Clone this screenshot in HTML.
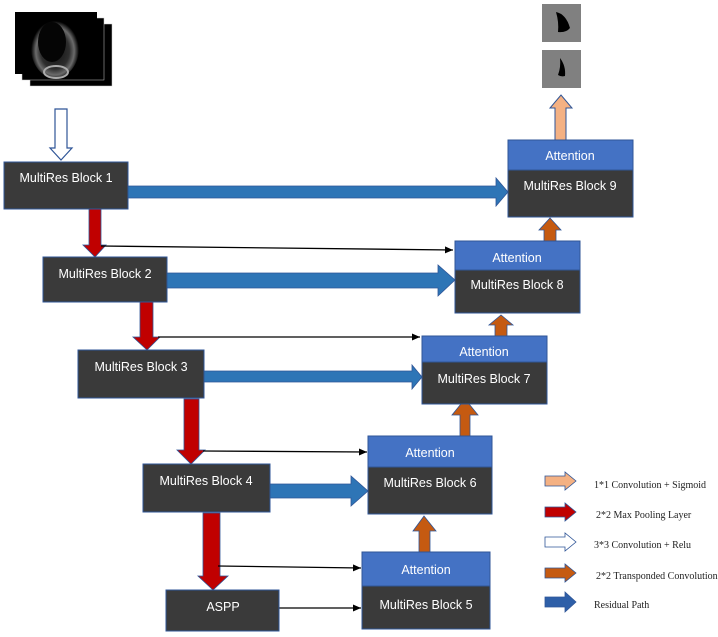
<!DOCTYPE html>
<html><head><meta charset="utf-8"><style>
html,body{margin:0;padding:0;background:#fff;}
svg{display:block;}
.bt{font-family:"Liberation Sans",sans-serif;font-size:12.5px;fill:#fff;}
.lg{font-family:"Liberation Serif",serif;font-size:10px;fill:#222;}
</style></head><body>
<svg width="718" height="637" viewBox="0 0 718 637" xmlns="http://www.w3.org/2000/svg">
<defs>
<marker id="ah" markerWidth="8" markerHeight="8" refX="8" refY="4" orient="auto" markerUnits="userSpaceOnUse"><path d="M0,0.5 L8,4 L0,7.5z" fill="#000"/></marker>
<radialGradient id="us" cx="0.5" cy="0.55" r="0.5"><stop offset="0" stop-color="#111"/><stop offset="0.6" stop-color="#333"/><stop offset="0.8" stop-color="#777"/><stop offset="1" stop-color="#000"/></radialGradient>
</defs>
<!-- input image stack -->
<rect x="30" y="24" width="82" height="62" fill="#000" stroke="#ccc" stroke-width="0.5"/>
<rect x="22" y="18" width="82" height="62" fill="#000" stroke="#ccc" stroke-width="0.5"/>
<rect x="15" y="12" width="82" height="62" fill="#000"/>
<ellipse cx="55" cy="48" rx="24" ry="30" fill="url(#us)" opacity="0.9"/>
<ellipse cx="52" cy="42" rx="14" ry="20" fill="#050505"/>
<ellipse cx="56" cy="72" rx="12" ry="6" fill="none" stroke="#aaa" stroke-width="2"/>
<!-- output images -->
<rect x="542" y="4" width="39" height="38" fill="#808080"/>
<path d="M556,12 Q566,14 570,28 Q566,33 558,32 Q559,22 556,12z" fill="#000"/>
<rect x="542" y="50" width="39" height="38" fill="#808080"/>
<path d="M560,58 Q566,66 565,76 Q561,77 558,75 Q561,67 560,58z" fill="#000"/>
<!-- white input arrow -->
<path d="M55,109 H67 V148 H72 L61,160 L50,148 H55z" fill="#fff" stroke="#2f5597" stroke-width="1.2"/>
<!-- light orange output arrow -->
<path d="M555,140 V108 H550 L561,95 L572,108 H566 V140z" fill="#f4b183" stroke="#2f5597" stroke-width="1"/>
<!-- blue residual arrows -->
<path d="M128,186 H496 V178 L508,192 L496,206 V198 H128z" fill="#2e75b6" stroke="#2f5597" stroke-width="0.8"/>
<path d="M167,273 H438 V265 L455,280 L438,296 V288 H167z" fill="#2e75b6" stroke="#2f5597" stroke-width="0.8"/>
<path d="M204,371 H412 V365 L422,377 L412,389 V382 H204z" fill="#2e75b6" stroke="#2f5597" stroke-width="0.8"/>
<path d="M270,484 H351 V476 L368,491 L351,506 V498 H270z" fill="#2e75b6" stroke="#2f5597" stroke-width="0.8"/>
<!-- red pooling arrows -->
<path d="M89,209 H101 V245 H106 L95,257 L83,245 H89z" fill="#c00000" stroke="#2f5597" stroke-width="0.8"/>
<path d="M140,302 H153 V337 H160 L147,350 L133,337 H140z" fill="#c00000" stroke="#2f5597" stroke-width="0.8"/>
<path d="M184,399 H199 V450 H205 L191,464 L177,450 H184z" fill="#c00000" stroke="#2f5597" stroke-width="0.8"/>
<path d="M203,513 H220 V576 H228 L213,590 L198,576 H203z" fill="#c00000" stroke="#2f5597" stroke-width="0.8"/>
<!-- black connectors -->
<line x1="101" y1="246" x2="453" y2="250" stroke="#000" stroke-width="1.3" marker-end="url(#ah)"/>
<line x1="158" y1="337" x2="420" y2="337" stroke="#000" stroke-width="1.3" marker-end="url(#ah)"/>
<line x1="203" y1="451" x2="367" y2="452" stroke="#000" stroke-width="1.3" marker-end="url(#ah)"/>
<line x1="218" y1="566" x2="361" y2="568" stroke="#000" stroke-width="1.3" marker-end="url(#ah)"/>
<line x1="279" y1="608" x2="361" y2="608" stroke="#000" stroke-width="1.3" marker-end="url(#ah)"/>
<!-- orange upsampling arrows -->
<path d="M544,241 V230 H539 L550,218 L561,230 H556 V241z" fill="#c55a11" stroke="#2f5597" stroke-width="0.8"/>
<path d="M495,336 V325 H489 L501,315 L513,325 H507 V336z" fill="#c55a11" stroke="#2f5597" stroke-width="0.8"/>
<path d="M460,436 V415 H452 L465,399 L478,415 H470 V436z" fill="#c55a11" stroke="#2f5597" stroke-width="0.8"/>
<path d="M419,552 V531 H413 L424,516 L436,531 H430 V552z" fill="#c55a11" stroke="#2f5597" stroke-width="0.8"/>
<!-- encoder blocks -->
<g stroke="#2f5597" stroke-width="1">
<rect x="4" y="162" width="124" height="47" fill="#3a3a3a"/>
<rect x="43" y="257" width="124" height="45" fill="#3a3a3a"/>
<rect x="78" y="350" width="126" height="48" fill="#3a3a3a"/>
<rect x="143" y="464" width="127" height="48" fill="#3a3a3a"/>
<rect x="166" y="590" width="113" height="41" fill="#3a3a3a"/>
<!-- decoder -->
<rect x="362" y="552" width="128" height="34" fill="#4472c4"/>
<rect x="362" y="586" width="128" height="43" fill="#3a3a3a"/>
<rect x="368" y="436" width="124" height="31" fill="#4472c4"/>
<rect x="368" y="467" width="124" height="47" fill="#3a3a3a"/>
<rect x="422" y="336" width="125" height="26" fill="#4472c4"/>
<rect x="422" y="362" width="125" height="42" fill="#3a3a3a"/>
<rect x="455" y="241" width="125" height="29" fill="#4472c4"/>
<rect x="455" y="270" width="125" height="43" fill="#3a3a3a"/>
<rect x="508" y="140" width="125" height="30" fill="#4472c4"/>
<rect x="508" y="170" width="125" height="47" fill="#3a3a3a"/>
</g>
<g class="bt" text-anchor="middle">
<text x="66" y="182">MultiRes Block 1</text>
<text x="105" y="278">MultiRes Block 2</text>
<text x="141" y="371">MultiRes Block 3</text>
<text x="206" y="485">MultiRes Block 4</text>
<text x="223" y="611">ASPP</text>
<text x="426" y="574">Attention</text>
<text x="426" y="609">MultiRes Block 5</text>
<text x="430" y="457">Attention</text>
<text x="430" y="487">MultiRes Block 6</text>
<text x="484" y="356">Attention</text>
<text x="484" y="383">MultiRes Block 7</text>
<text x="517" y="262">Attention</text>
<text x="517" y="289">MultiRes Block 8</text>
<text x="570" y="160">Attention</text>
<text x="570" y="190">MultiRes Block 9</text>
</g>
<!-- legend -->
<path d="M545,476 H565 V472 L576,481 L565,490 V486 H545z" fill="#f4b183" stroke="#2f5597" stroke-width="0.8"/>
<path d="M545,507 H565 V503 L576,512 L565,521 V517 H545z" fill="#c00000" stroke="#2f5597" stroke-width="0.8"/>
<path d="M545,537 H565 V533 L576,542 L565,551 V547 H545z" fill="#fff" stroke="#2f5597" stroke-width="0.8"/>
<path d="M545,568 H565 V564 L576,573 L565,582 V578 H545z" fill="#c55a11" stroke="#2f5597" stroke-width="0.8"/>
<path d="M545,597 H565 V592 L576,602 L565,612 V607 H545z" fill="#2e5fa8" stroke="#2f5597" stroke-width="0.8"/>
<g class="lg">
<text x="594" y="488">1*1 Convolution + Sigmoid</text>
<text x="596" y="518">2*2 Max Pooling Layer</text>
<text x="594" y="548">3*3 Convolution + Relu</text>
<text x="596" y="579">2*2 Transponded Convolution</text>
<text x="594" y="608">Residual Path</text>
</g>
</svg>
</body></html>
